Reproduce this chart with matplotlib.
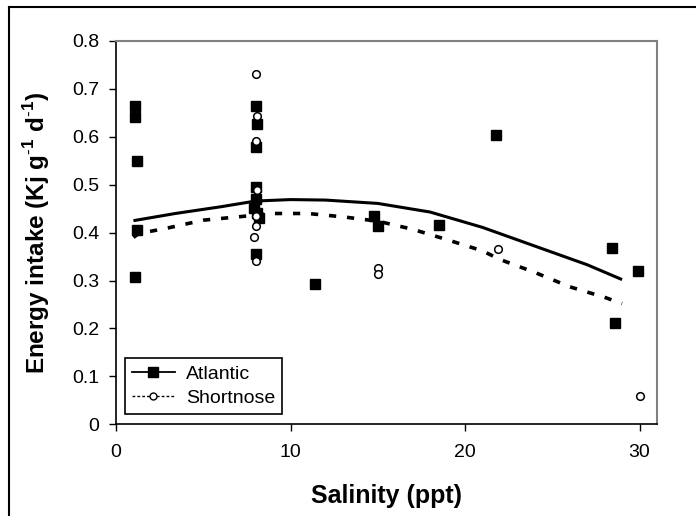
import matplotlib
matplotlib.use("Agg")
import matplotlib.pyplot as plt
from matplotlib.lines import Line2D

plt.rcParams['font.family'] = ['Liberation Sans', 'DejaVu Sans']
plt.rcParams['mathtext.fontset'] = 'custom'
plt.rcParams['mathtext.rm'] = 'Liberation Sans'
plt.rcParams['mathtext.bf'] = 'Liberation Sans:bold'

# Observed points
atlantic_x = [1.1, 1.1, 1.2, 1.2, 1.1, 8.0, 8.1, 8.0, 8.0, 8.0, 7.9, 8.1, 8.2, 8.0,
              11.4, 14.8, 15.0, 18.5, 21.8, 28.4, 28.6, 29.9]
atlantic_y = [0.664, 0.642, 0.550, 0.405, 0.307, 0.664, 0.627, 0.578, 0.495, 0.470,
              0.452, 0.442, 0.430, 0.355, 0.293, 0.435, 0.414, 0.417, 0.604, 0.368,
              0.212, 0.321]
shortnose_x = [8.0, 8.1, 8.0, 8.1, 8.0, 8.0, 7.9, 8.0, 15.0, 15.0, 21.9, 30.0]
shortnose_y = [0.732, 0.644, 0.591, 0.490, 0.435, 0.414, 0.391, 0.340, 0.327, 0.313,
               0.365, 0.060]

# Fitted curves
atl_fit_x = [1, 3.4, 6, 8, 10, 12, 15, 18, 21, 24, 27, 29]
atl_fit_y = [0.425, 0.440, 0.454, 0.466, 0.469, 0.468, 0.461, 0.443, 0.411, 0.372, 0.333, 0.302]
sho_fit_x = [1, 1.3, 3, 5, 7, 9, 11, 13, 15, 17, 19, 21, 22, 24, 26, 28, 29]
sho_fit_y = [0.390, 0.398, 0.410, 0.426, 0.433, 0.440, 0.440, 0.433, 0.424, 0.407, 0.385,
             0.362, 0.344, 0.317, 0.287, 0.265, 0.252]

x_ticks = [0, 10, 20, 30]
y_ticks = [0, 0.1, 0.2, 0.3, 0.4, 0.5, 0.6, 0.7, 0.8]
y_tick_labels = ['0', '0.1', '0.2', '0.3', '0.4', '0.5', '0.6', '0.7', '0.8']

fig = plt.figure(figsize=(6.96, 5.16), dpi=100)
ax = fig.add_axes([116/696, 1-424.3/516, 541/696, 383.3/516])

ax.plot(atl_fit_x, atl_fit_y, color='black', lw=2.2, solid_capstyle='butt', zorder=2)
ax.plot(sho_fit_x, sho_fit_y, color='black', lw=2.6, linestyle=(0, (2, 3)), zorder=2)
ax.plot(atlantic_x, atlantic_y, linestyle='none', marker='s', markersize=7.5,
        color='black', zorder=3)
ax.plot(shortnose_x, shortnose_y, linestyle='none', marker='o', markersize=5.5,
        markerfacecolor='white', markeredgecolor='black', markeredgewidth=1.1, zorder=4)

ax.set_xlim(0, 31)
ax.set_ylim(0, 0.8)
ax.set_xticks(x_ticks)
ax.set_yticks(y_ticks)
ax.set_yticklabels(y_tick_labels)
ax.tick_params(axis='both', direction='out', length=5, width=1, labelsize=14)
ax.tick_params(axis='x', pad=9.5)
ax.tick_params(axis='y', pad=7)

for s in ['left', 'bottom']:
    ax.spines[s].set_color('black')
    ax.spines[s].set_linewidth(1.2)
for s in ['top', 'right']:
    ax.spines[s].set_color('#808080')
    ax.spines[s].set_linewidth(1.5)

ax.set_xlabel('Salinity (ppt)', fontsize=18, fontweight='bold')
ax.set_ylabel(r'Energy intake (Kj g$^{\mathbf{\text{-}1}}$ d$^{\mathbf{\text{-}1}}$)',
              fontsize=17.5, fontweight='bold')
ax.xaxis.set_label_coords(0.5, -0.156)
ax.yaxis.set_label_coords(-0.118, 0.5)

handles = [
    Line2D([], [], color='black', lw=1.3, marker='s', markersize=7),
    Line2D([], [], color='black', lw=1.0, linestyle=(0, (2, 1.5)), marker='o', markersize=5,
           markerfacecolor='white', markeredgecolor='black'),
]
leg = ax.legend(handles, ['Atlantic', 'Shortnose'], loc='lower left',
                bbox_to_anchor=(0.0166, 0.027), borderaxespad=0, fontsize=14,
                frameon=True, fancybox=False, edgecolor='black', framealpha=1,
                handlelength=2.2, handletextpad=0.6, labelspacing=0.35,
                borderpad=0.35)
leg.get_frame().set_linewidth(1.2)

# partial outer frame (left and top edges)
fig.add_artist(Line2D([8.5/696, 8.5/696], [0, 1-6.7/516], transform=fig.transFigure,
                      color='black', lw=1.5))
fig.add_artist(Line2D([8.5/696, 1], [1-6.7/516, 1-6.7/516], transform=fig.transFigure,
                      color='black', lw=1.5))

fig.savefig('out.png', dpi=100)
